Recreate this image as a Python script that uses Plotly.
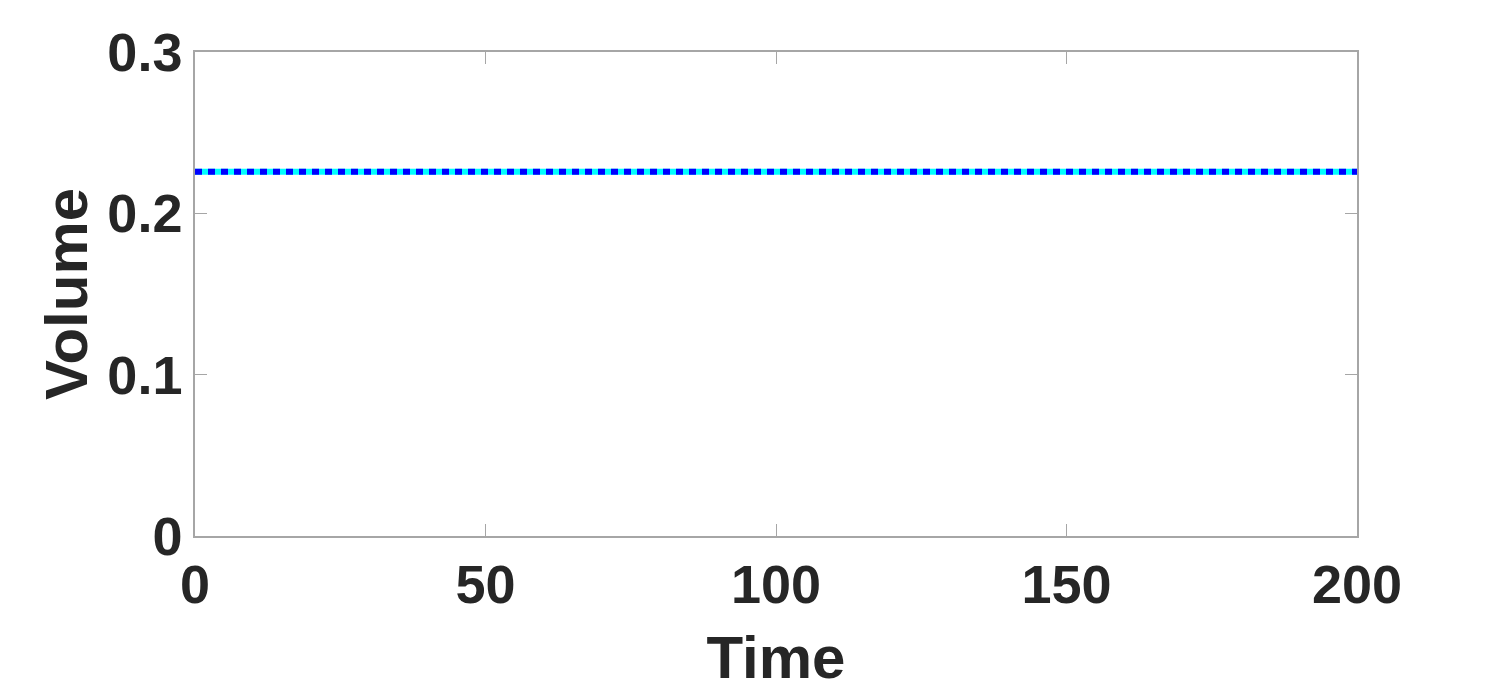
"""Constant volume over time, drawn as a cyan line with a blue dotted overlay."""

import plotly.graph_objects as go

time = [0, 200]
volume_cyan = [0.2257, 0.2257]
volume_blue = [0.2257, 0.2257]

x_ticks = [0, 50, 100, 150, 200]
y_ticks = [0, 0.1, 0.2, 0.3]
y_tick_labels = ["0", "0.1", "0.2", "0.3"]

FONT = "Liberation Sans"
TEXT = "#262626"
AXIS = "#a6a6a6"

fig = go.Figure()

fig.add_trace(
    go.Scatter(
        x=time,
        y=volume_cyan,
        mode="lines",
        line=dict(color="#00ffff", width=6),
        showlegend=False,
    )
)

fig.add_trace(
    go.Scatter(
        x=time,
        y=volume_blue,
        mode="lines",
        line=dict(color="#0000ff", width=6, dash="7px,6px"),
        showlegend=False,
    )
)

axis_style = dict(
    showline=True,
    linecolor=AXIS,
    linewidth=1.5,
    mirror="ticks",
    ticks="inside",
    ticklen=12,
    tickwidth=1,
    tickcolor=AXIS,
    showgrid=False,
    zeroline=False,
    tickfont=dict(family=FONT, size=54, color=TEXT, weight="bold"),
)

# page body keeps the browser's 8px margin, so the margins are shifted by 8
fig.update_layout(
    width=1500,
    height=691,
    margin=dict(l=187, r=151, t=44, b=163),
    paper_bgcolor="white",
    plot_bgcolor="white",
    xaxis=dict(
        range=[0, 200],
        tickvals=x_ticks,
        title=dict(
            text="<b>Time</b>",
            font=dict(family=FONT, size=60, color=TEXT),
            standoff=23,
        ),
        **axis_style,
    ),
    yaxis=dict(
        range=[0, 0.3],
        tickvals=y_ticks,
        ticktext=y_tick_labels,
        title=dict(
            text="<b>Volume</b>",
            font=dict(family=FONT, size=60, color=TEXT),
            standoff=0,
        ),
        **axis_style,
    ),
)

fig.write_html("out.html")
